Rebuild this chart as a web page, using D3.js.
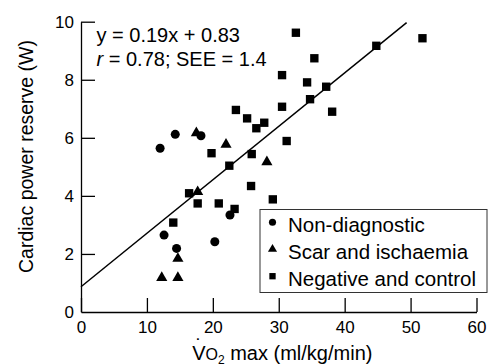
<!DOCTYPE html>
<html>
<head>
<meta charset="utf-8">
<script src="https://cdn.jsdelivr.net/npm/d3@7"></script>
<style>
  html, body { margin: 0; padding: 0; background: #fff; }
  svg { display: block; }
  text { font-family: "Liberation Sans", Arial, Helvetica, sans-serif; fill: #000; }
</style>
</head>
<body>
<svg id="chart" width="488" height="364"></svg>
<script>
// ---- data ----
const xTicks = [0, 10, 20, 30, 40, 50, 60];
const yTicks = [0, 2, 4, 6, 8, 10];
const seriesNames = ["Non-diagnostic", "Scar and ischaemia", "Negative and control"];

const nonDiagX = [12.0, 14.3, 18.2, 12.6, 14.5, 20.3, 22.6];
const nonDiagY = [5.64, 6.12, 6.07, 2.65, 2.19, 2.42, 3.34];

const scarX = [17.5, 17.7, 22.0, 28.2, 14.7, 12.25, 14.7];
const scarY = [6.21, 4.18, 5.81, 5.21, 1.88, 1.22, 1.22];

const negX = [14.0, 16.4, 17.7, 19.8, 20.9, 22.5, 23.3, 23.5, 25.2, 26.6, 27.8, 25.9, 25.8,
              29.1, 31.2, 30.5, 30.5, 32.6, 34.3, 34.75, 35.4, 37.2, 38.1, 44.8, 51.8];
const negY = [3.08, 4.09, 3.74, 5.47, 3.74, 5.04, 3.55, 6.96, 6.67, 6.33, 6.52, 5.44, 4.34,
              3.88, 5.89, 8.16, 7.07, 9.62, 7.91, 7.33, 8.74, 7.76, 6.90, 9.17, 9.43];

const fitX = [0, 49.4];
const fitY = [0.87, 9.97];
const eqLines = ["y = 0.19x + 0.83", "r = 0.78; SEE = 1.4"];
const xLabelRest = " max (ml/kg/min)";
const yLabel = "Cardiac power reserve (W)";

// ---- drawing ----
const svg = d3.select("#chart");
const x = d3.scaleLinear().domain([0, 60]).range([81, 476.5]);
const y = d3.scaleLinear().domain([0, 10]).range([312, 21.7]);

const axisColor = "#000";

// x axis
const gx = svg.append("g").attr("transform", `translate(0,${y(0)})`)
  .call(d3.axisBottom(x).tickValues(xTicks).tickSizeInner(-14).tickSizeOuter(0).tickPadding(9));
// y axis
const gy = svg.append("g").attr("transform", `translate(${x(0)},0)`)
  .call(d3.axisLeft(y).tickValues(yTicks).tickSizeInner(-14).tickSizeOuter(0).tickPadding(7));

[gx, gy].forEach(g => {
  g.select(".domain").attr("stroke", axisColor).attr("stroke-width", 1.3);
  g.selectAll(".tick line").attr("stroke", axisColor).attr("stroke-width", 1.3);
  g.selectAll(".tick text").attr("font-size", 17).attr("font-family", "Liberation Sans, Arial, sans-serif").attr("fill", "#000");
});
gy.selectAll(".tick").filter(d => d === 0).select("line").remove();

// regression line
svg.append("line")
  .attr("x1", x(fitX[0])).attr("y1", y(fitY[0]))
  .attr("x2", x(fitX[1])).attr("y2", y(fitY[1]))
  .attr("stroke", "#000").attr("stroke-width", 1.5);

// markers
const symCircle = d3.symbol().type(d3.symbolCircle).size(64);
const symTri = d3.symbol().type(d3.symbolTriangle).size(54);
const symSq = d3.symbol().type(d3.symbolSquare).size(70);

function plot(xs, ys, sym, yOff) {
  svg.append("g").selectAll("path")
    .data(xs.map((v, i) => [v, ys[i]]))
    .join("path")
    .attr("d", sym)
    .attr("transform", d => `translate(${x(d[0])},${y(d[1]) + yOff})`)
    .attr("fill", "#000");
}
plot(negX, negY, symSq, 0);
plot(scarX, scarY, symTri, 1.2);
plot(nonDiagX, nonDiagY, symCircle, 0);

// equation text
const eq = svg.append("g").attr("font-size", 20);
eq.append("text").attr("x", 96.5).attr("y", 41.7).text(eqLines[0]);
const t2 = eq.append("text").attr("x", 96.5).attr("y", 65.7);
t2.append("tspan").attr("font-style", "italic").text(eqLines[1].slice(0, 1));
t2.append("tspan").text(eqLines[1].slice(1));

// y label
svg.append("text")
  .attr("transform", "translate(33,156.5) rotate(-90)")
  .attr("text-anchor", "middle")
  .attr("font-size", 19.5)
  .text(yLabel);

// x label (V with dot above, small O, subscript 2)
function measure(str, size) {
  const t = svg.append("text").attr("font-size", size).attr("x", 0).attr("y", -100).text(str);
  const w = t.node().getComputedTextLength();
  t.remove();
  return w;
}
const wV = measure("V", 20), wO = measure("O", 16), w2 = measure("2", 12), wRest = measure(xLabelRest, 20);
const wDot = measure("\u02D9", 20);
const xlCenter = 279.5, xlBase = 360;
const xlStart = xlCenter - (wV + wO + w2 + wRest) / 2;
const xl = svg.append("text").attr("x", xlStart).attr("y", xlBase).attr("font-size", 20);
xl.append("tspan").text("V");
xl.append("tspan").attr("font-size", 16).text("O");
xl.append("tspan").attr("font-size", 12).attr("dy", 4).text("2");
xl.append("tspan").attr("dy", -4).text(xLabelRest);
xl.append("tspan").attr("x", xlStart + wV / 2 - wDot / 2).attr("y", xlBase - 7).text("\u02D9");

// legend
const lg = svg.append("g");
lg.append("rect").attr("x", 260).attr("y", 209.5).attr("width", 227).attr("height", 83)
  .attr("fill", "#fff").attr("stroke", "#333").attr("stroke-width", 1);
const legSyms = [
  d3.symbol().type(d3.symbolCircle).size(40),
  d3.symbol().type(d3.symbolTriangle).size(36),
  d3.symbol().type(d3.symbolSquare).size(40)
];
seriesNames.forEach((name, i) => {
  const by = 231.7 + i * 27;
  lg.append("path").attr("d", legSyms[i]()).attr("fill", "#000")
    .attr("transform", `translate(272.5,${by - 9.5})`);
  lg.append("text").attr("x", 288).attr("y", by).attr("font-size", 20.5).text(name);
});
</script>
</body>
</html>
